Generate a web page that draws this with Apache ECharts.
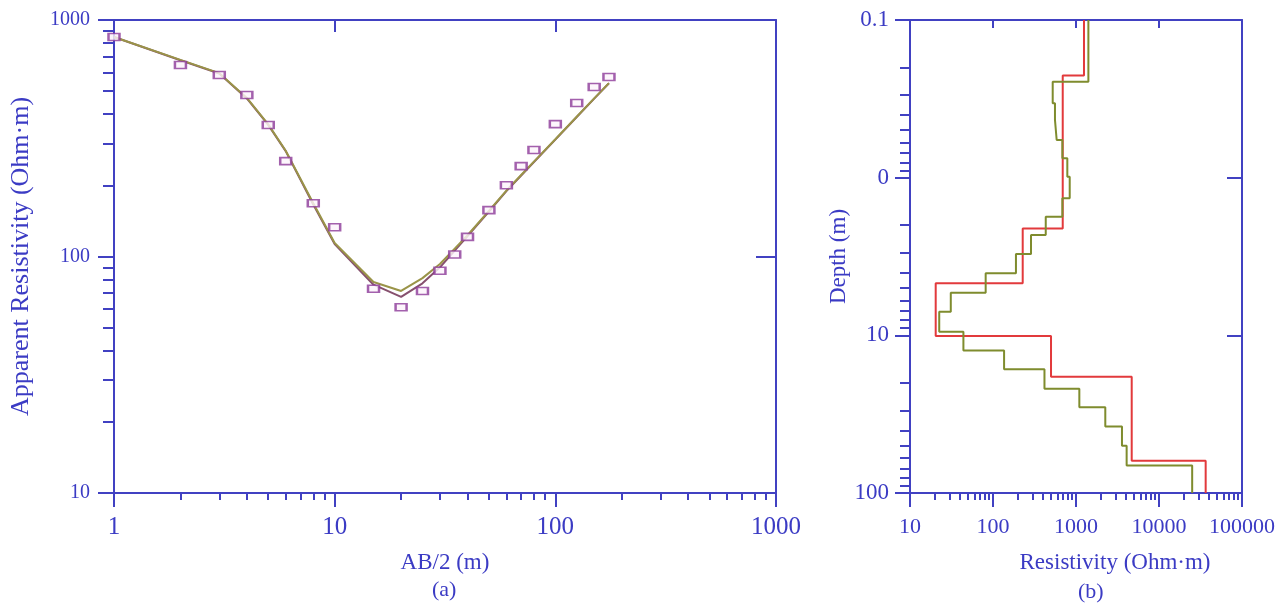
<!DOCTYPE html>
<html><head><meta charset="utf-8">
<script src="https://cdn.jsdelivr.net/npm/echarts@6/dist/echarts.min.js"></script>
<style>html,body{margin:0;padding:0;background:#fff}#c{width:1287px;height:609px}</style>
</head><body><div id="c"></div>
<script>
// ---- Panel (a): sounding curve ----
const abHalf = [1,2,3,4,5,6,8,10,15,20,25,30,35,40,50,60,70,80,100,125,150,175];
const observedRho = [847,645,585,482,360,253,168,133,73,61,71.5,87,102,121,157,200,241,282,363,446,521,574];
const modelRhoA = [847,678,596,468,362,280,168,114,78,71.5,81,93,108,123,156,190,221,252,313,390,466,541];
const modelRhoB = [847,676,594,466,360,279,166,113,76,67.5,77,90,106,122,155,189,220,251,312,389,465,540];
const abTicks = [1,10,100,1000];
const abMinor = [2,3,4,5,6,7,8,9,20,30,40,50,60,70,80,90,200,300,400,500,600,700,800,900];
const rhoTicks = [10,100,1000];
const rhoMinor = [20,30,40,50,60,70,80,90,200,300,400,500,600,700,800,900];

// ---- Panel (b): layered models ----
const topDepth = 0.1;
const trueRes = [1248, 692, 228, 20.4, 500, 4690, 36500];
const trueBottom = [0.225, 2.10, 4.68, 10.1, 18.3, 62.5, 100];
const invRes = [1410,524,558,585,685,786,840,685,432,287,189,81.6,31,22.5,44,136,417,1097,2254,3580,4075,25100];
const invBottom = [0.246,0.337,0.43,0.577,0.754,0.986,1.35,1.77,2.31,3.05,4.04,5.36,7.08,9.49,12.5,16.4,21.8,28.6,37.9,50.2,67,100];
const resTicks = [10,100,1000,10000,100000];
const resMinor = [20,30,40,50,60,70,80,90,200,300,400,500,600,700,800,900,2000,3000,4000,5000,6000,7000,8000,9000,20000,30000,40000,50000,60000,70000,80000,90000];
const depthTicks = [0.1,1,10,100];
const depthTickLabels = ['0.1','0','10','100'];
const depthMinor = [0.2,0.3,0.4,0.5,0.6,0.7,0.8,0.9,2,3,4,5,6,7,8,9,20,30,40,50,60,70,80,90];

const AX = '#4141c2';
const TX = '#3b3bc4';
const FONT = '"Liberation Serif", "DejaVu Serif", serif';

function plain(v) { return v >= 1 ? String(Math.round(v)) : String(+v.toPrecision(3)); }

function steps(res, bottoms, top) {
  const pts = [];
  let t = top;
  for (let i = 0; i < res.length; i++) {
    pts.push([res[i], t]);
    pts.push([res[i], bottoms[i]]);
    t = bottoms[i];
  }
  return pts;
}

function mainAxis(o) {
  return Object.assign({
    type: 'log', logBase: 10, splitLine: {show: false},
    axisLine: {show: true, onZero: false, lineStyle: {color: AX, width: 2}},
    nameLocation: 'middle'
  }, o);
}
function minorAxis(o, vals, len) {
  return Object.assign({
    type: 'log', logBase: 10, splitLine: {show: false},
    axisLine: {show: false, onZero: false},
    axisTick: {show: true, inside: false, length: len, customValues: vals, lineStyle: {color: AX, width: 2}},
    axisLabel: {show: false}
  }, o);
}
function innerAxis(o, vals, len) {
  return Object.assign({
    type: 'log', logBase: 10, splitLine: {show: false},
    axisLine: {show: true, onZero: false, lineStyle: {color: AX, width: 2}},
    axisTick: {show: true, inside: true, length: len, customValues: vals, lineStyle: {color: AX, width: 2}},
    axisLabel: {show: false}
  }, o);
}
function tick(vals, len) { return {show: true, inside: false, length: len, customValues: vals, lineStyle: {color: AX, width: 2}}; }
function label(vals, size, margin, fmt) {
  return {show: true, color: TX, fontFamily: FONT, fontSize: size, margin: margin, customValues: vals, formatter: fmt || plain};
}
function nameStyle(size, pad) {
  const s = {color: TX, fontFamily: FONT, fontSize: size};
  if (pad) s.padding = pad;
  return s;
}

const option = {
  backgroundColor: '#fff',
  animation: false,
  grid: [
    {left: 113, top: 20, width: 663, height: 473},
    {left: 910, top: 20, width: 332, height: 473}
  ],
  xAxis: [
    mainAxis({gridIndex: 0, position: 'bottom', min: 1, max: 1000, name: 'AB/2 (m)', nameGap: 58,
      nameTextStyle: nameStyle(23), axisTick: tick(abTicks, 14), axisLabel: label(abTicks, 25, 22)}),
    minorAxis({gridIndex: 0, position: 'bottom', min: 1, max: 1000}, abMinor, 7),
    innerAxis({gridIndex: 0, position: 'top', min: 1, max: 1000}, [10,100], 12),
    mainAxis({gridIndex: 1, position: 'bottom', min: 10, max: 100000, name: 'Resistivity (Ohm·m)', nameGap: 58,
      nameTextStyle: nameStyle(23, [0, 0, 0, 78]), axisTick: tick(resTicks, 14), axisLabel: label(resTicks, 22, 23)}),
    minorAxis({gridIndex: 1, position: 'bottom', min: 10, max: 100000}, resMinor, 7),
    innerAxis({gridIndex: 1, position: 'top', min: 10, max: 100000}, [100,1000,10000], 8)
  ],
  yAxis: [
    mainAxis({gridIndex: 0, position: 'left', min: 10, max: 1000, name: 'Apparent Resistivity (Ohm·m)', nameGap: 80,
      nameTextStyle: nameStyle(26), axisTick: tick(rhoTicks, 16), axisLabel: label(rhoTicks, 20, 24)}),
    minorAxis({gridIndex: 0, position: 'left', min: 10, max: 1000}, rhoMinor, 11),
    innerAxis({gridIndex: 0, position: 'right', min: 10, max: 1000}, [100], 20),
    mainAxis({gridIndex: 1, position: 'left', inverse: true, min: 0.1, max: 100, name: 'Depth (m)', nameGap: 59,
      nameTextStyle: nameStyle(23), axisTick: tick(depthTicks, 15),
      axisLabel: label(depthTicks, 23, 21, function (v) {
        const i = depthTicks.findIndex(d => Math.abs(d - v) / d < 1e-6);
        return i >= 0 ? depthTickLabels[i] : '';
      })}),
    minorAxis({gridIndex: 1, position: 'left', inverse: true, min: 0.1, max: 100}, depthMinor, 10),
    innerAxis({gridIndex: 1, position: 'right', inverse: true, min: 0.1, max: 100}, [1,10], 15)
  ],
  series: [
    {type: 'line', xAxisIndex: 0, yAxisIndex: 0, symbol: 'none', z: 2,
      lineStyle: {color: '#86506e', width: 2},
      data: abHalf.map((x, i) => [x, modelRhoB[i]])},
    {type: 'line', xAxisIndex: 0, yAxisIndex: 0, symbol: 'none', z: 3,
      lineStyle: {color: '#9a9448', width: 2},
      data: abHalf.map((x, i) => [x, modelRhoA[i]])},
    {type: 'scatter', xAxisIndex: 0, yAxisIndex: 0, symbol: 'rect', symbolSize: [11, 7], z: 4,
      itemStyle: {color: '#fdf4fb', borderColor: '#8c3a98', borderWidth: 2},
      data: abHalf.map((x, i) => [x, observedRho[i]])},
    {type: 'line', xAxisIndex: 3, yAxisIndex: 3, symbol: 'none', z: 3,
      lineStyle: {color: '#7f8c2e', width: 2},
      data: steps(invRes, invBottom, topDepth)},
    {type: 'line', xAxisIndex: 3, yAxisIndex: 3, symbol: 'none', z: 2,
      lineStyle: {color: '#e23a3c', width: 2},
      data: steps(trueRes, trueBottom, topDepth)}
  ],
  graphic: [
    {type: 'text', left: 432, top: 579, style: {text: '(a)', fill: TX, font: '22px ' + FONT}},
    {type: 'text', left: 1078, top: 581, style: {text: '(b)', fill: TX, font: '22px ' + FONT}}
  ]
};
const chart = echarts.init(document.getElementById('c'), null, {renderer: 'canvas'});
chart.setOption(option);
</script>
</body></html>
